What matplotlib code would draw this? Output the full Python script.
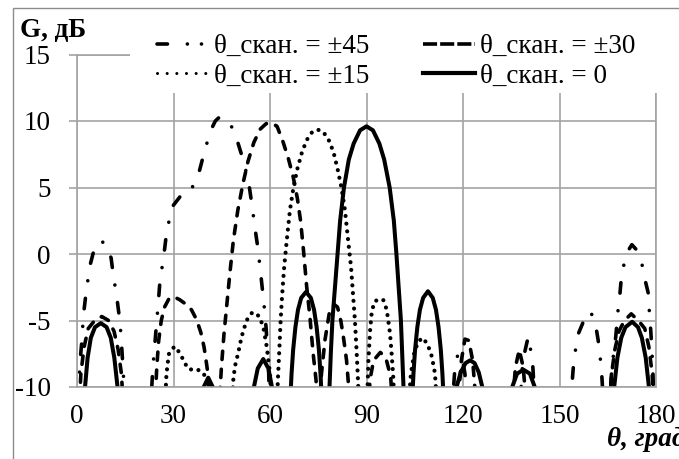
import matplotlib
matplotlib.use("Agg")
import matplotlib.pyplot as plt
from matplotlib.lines import Line2D
from matplotlib.patches import Rectangle

plt.rcParams['font.family'] = ['Liberation Serif', 'DejaVu Serif']

# ---------------- data ----------------
x_ticks = [0, 30, 60, 90, 120, 150, 180]
y_ticks = [-10, -5, 0, 5, 10, 15]

labels = ["θ_скан. = ±45", "θ_скан. = ±30", "θ_скан. = ±15", "θ_скан. = 0"]

# scan = 0 (solid)
theta_0 = [2.0, 2.5, 3.3, 4.3, 5.6, 7.4, 9.2, 10.5, 11.6, 12.6, 13.1,
           38.8, 39.4, 40.8, 42.2, 42.8,
           54.6, 55.0, 56.2, 57.9, 59.5, 60.6, 61.0,
           66.3, 66.7, 67.2, 67.9, 68.7, 69.7, 71.2, 72.7, 73.7, 74.5, 75.2, 75.7, 76.1,
           78.3, 78.5, 78.9, 79.4, 80.2, 81.0, 81.8, 83.0, 84.5, 86.0, 88.0, 90.0,
           92.0, 94.0, 95.5, 97.2, 98.5, 99.3, 100.0, 100.7, 101.1, 101.5, 101.7,
           104.2, 104.6, 105.1, 105.8, 106.6, 107.6, 109.1, 110.6, 111.6, 112.4, 113.1, 113.6, 114.0,
           117.3, 118.0, 119.3, 120.8, 122.2, 123.6, 124.9, 126.0, 126.6,
           134.6, 135.3, 136.8, 138.8, 140.8, 142.3, 143.0,
           166.5, 167.0, 168.0, 169.2, 170.5, 172.6, 174.4, 175.6, 176.8, 177.8, 178.3]
gain_0 = [-11, -10, -7.8, -6.3, -5.5, -5.2, -5.5, -6.3, -7.8, -10, -11,
          -11, -10, -9.3, -10, -11,
          -11, -10, -8.6, -7.9, -8.6, -10, -11,
          -11, -9.0, -7.2, -5.5, -4.2, -3.3, -2.85, -3.3, -4.2, -5.5, -7.2, -9.0, -11,
          -11, -10, -7.5, -5.0, -2.5, 0.0, 2.5, 5.0, 7.1, 8.3, 9.3, 9.6,
          9.3, 8.3, 7.1, 5.0, 2.5, 0.0, -2.5, -5.0, -7.5, -10, -11,
          -11, -9.0, -7.2, -5.5, -4.2, -3.3, -2.8, -3.3, -4.2, -5.5, -7.2, -9.0, -11,
          -11, -10, -8.9, -8.2, -8.0, -8.2, -8.9, -10, -11,
          -11, -10, -9.0, -8.7, -9.0, -10, -11,
          -11, -10, -7.8, -6.3, -5.5, -5.1, -5.5, -6.3, -7.8, -10, -11]

# scan = ±15 (dotted)
theta_15 = [27.5, 27.7, 27.9, 28.2, 28.6, 30.3, 32.0, 33.3, 34.6, 36.0, 37.2, 39.3, 40.5, 41.2,
            48.3, 48.6, 49.1, 50.1, 51.2, 52.7, 54.3, 55.5, 56.9, 58.0, 59.0, 60.0, 60.4,
            62.2, 62.5, 62.9, 63.3, 63.8, 64.4, 65.2, 66.2, 67.3, 68.5, 70.0, 71.5, 73.2, 74.8,
            76.5, 78.2, 79.7, 81.0, 82.2, 83.3, 84.3, 85.2, 85.8, 86.4, 86.9, 87.3, 87.6,
            90.2, 90.6, 91.1, 91.6, 92.4, 93.7, 95.2, 96.3, 97.3, 97.8, 98.3, 98.6,
            103.2, 103.8, 104.8, 106.0, 107.5, 109.0, 110.3, 111.3, 111.8]
gain_15 = [-11, -9.45, -8.85, -8.2, -7.5, -6.95, -7.45, -8.1, -8.65, -8.7, -8.65, -8.95, -9.6, -11,
           -11, -9.45, -8.45, -7.45, -6.2, -5.0, -4.45, -4.4, -4.8, -5.6, -7.0, -9.0, -11,
           -11, -9.2, -7.2, -5.0, -3.0, -1.0, 1.0, 3.3, 5.0, 6.4, 7.7, 8.6, 9.2, 9.35,
           9.2, 8.6, 7.7, 6.4, 5.0, 3.3, 1.0, -1.0, -3.0, -5.0, -7.2, -9.2, -11,
           -11, -8.0, -5.8, -4.45, -3.6, -3.4, -3.45, -4.2, -5.95, -7.45, -9.2, -11,
           -11, -9.0, -7.5, -6.6, -6.3, -6.8, -7.7, -9.0, -11]

# scan = ±30 (dashed)
theta_30 = [0.8, 1.2, 2.2, 3.5, 5.5, 7.7, 9.8, 11.5, 12.8, 13.8, 14.3,
            24.3, 24.8, 25.4, 26.2, 27.2, 28.5, 30.0, 32.0, 34.0, 35.6, 37.2, 38.5, 39.5, 40.3, 40.8, 41.2,
            44.3, 44.9, 45.7, 46.5, 47.5, 48.6, 50.0, 51.6, 53.2, 55.0, 57.0, 58.8, 60.5,
            62.2, 64.1, 65.8, 67.2, 68.5, 69.5, 70.4, 71.4, 72.4, 73.4, 74.3, 74.7,
            75.5, 76.0, 77.1, 78.6, 80.0, 81.0, 82.0, 82.8, 83.8, 84.3, 84.6,
            90.6, 91.2, 92.2, 94.3, 96.0, 97.5, 98.0,
            118.5, 119.5, 120.6, 121.8, 123.0, 124.0,
            135.5, 136.3, 137.5, 138.7, 139.6,
            165.7, 166.2, 167.2, 168.5, 170.2, 172.3, 174.5, 176.5, 177.8, 178.8, 179.2]
gain_30 = [-11, -9.0, -7.0, -5.6, -5.0, -4.7, -5.0, -5.8, -7.2, -9.0, -11,
           -11, -8.5, -6.5, -5.0, -4.0, -3.4, -3.2, -3.45, -3.8, -4.2, -4.95, -5.9, -7.0, -8.3, -9.2, -11,
           -11, -8.5, -6.0, -4.0, -1.5, 1.0, 3.3, 5.3, 7.0, 8.4, 9.4, 9.8, 9.85,
           9.6, 8.4, 7.1, 5.8, 4.2, 2.5, 0.3, -2.45, -4.7, -7.45, -9.45, -11,
           -11, -9.0, -6.45, -4.2, -3.8, -4.0, -5.0, -6.2, -8.0, -9.5, -11,
           -11, -9.3, -8.0, -7.4, -7.8, -9.2, -11,
           -11, -8.0, -6.4, -6.5, -8.0, -11,
           -11, -8.5, -7.2, -8.5, -11,
           -11, -9.0, -7.2, -5.8, -5.0, -4.5, -5.0, -5.6, -7.0, -9.0, -11]

# scan = ±45 (dash-dot)
theta_45 = [0.4, 0.9, 1.45, 2.0, 2.8, 4.0, 5.6, 7.3, 9.2, 10.6, 11.3, 12.4, 13.4, 13.9, 14.4, 14.8,
            23.0, 23.6, 24.6, 25.2, 25.8, 26.9, 27.9, 29.6, 32.0, 35.1, 38.0, 40.0, 42.0, 43.0, 44.3,
            45.5, 47.0, 48.1, 50.1, 51.5, 53.3, 54.5, 55.3, 56.2, 56.9, 57.7, 58.3, 58.8, 59.2, 59.6, 59.8,
            116.8, 117.5, 118.5, 119.6, 120.6, 121.3,
            137.8, 138.6, 140.3, 141.6, 142.3,
            153.5, 154.3, 155.5, 157.4, 159.5, 161.0, 162.0, 163.0, 163.6,
            165.6, 166.3, 167.5, 168.3, 168.8, 169.3, 170.8, 172.5, 174.0, 175.5, 176.6,
            177.6, 177.9, 178.3, 178.6, 179.0, 179.3]
gain_45 = [-11, -8.2, -6.7, -4.6, -2.95, -0.9, 0.6, 1.0, 0.7, -0.3, -1.6, -3.3, -5.2, -7.0, -8.95, -11,
           -11, -8.5, -5.6, -3.9, -2.0, -0.3, 1.7, 3.55, 4.3, 4.6, 6.2, 8.05, 9.5, 10.0, 10.3,
           10.25, 9.9, 9.55, 8.3, 7.2, 5.5, 3.5, 2.0, 0.5, -1.0, -2.8, -4.2, -5.6, -7.2, -9.0, -11,
           -11, -8.5, -7.45, -7.6, -9.0, -11,
           -11, -8.0, -6.2, -8.0, -11,
           -11, -8.5, -6.2, -5.1, -4.3, -5.0, -6.45, -8.5, -11,
           -11, -8.5, -6.2, -3.95, -2.95, -1.6, 0.05, 0.7, 0.3, -0.6, -1.95,
           -2.95, -4.2, -5.5, -6.7, -8.5, -11]

# ---------------- figure ----------------
W, H = 679, 459
fig = plt.figure(figsize=(W / 100, H / 100), dpi=100)
ax = fig.add_axes([77 / W, 1 - 387 / H, 579 / W, 332.5 / H])

grid_c = '#a3a3a3'
lw = 2.6
FS = 19.5

st45 = dict(color='k', lw=lw, ls=(0, (2.9, 4.9, 0.01, 4.9)), dash_capstyle='round')
st30 = dict(color='k', lw=lw, ls=(0, (2.3, 2.7)), dash_capstyle='round')
st15 = dict(color='k', lw=3.0, ls=(0, (0.01, 1.85)), dash_capstyle='round')
st0 = dict(color='k', lw=2.9, ls='-', solid_joinstyle='round')

ax.plot(theta_45, gain_45, **st45)
ax.plot(theta_30, gain_30, **st30)
ax.plot(theta_15, gain_15, **st15)
ax.plot(theta_0, gain_0, **st0)

ax.set_xlim(0, 180)
ax.set_ylim(-10, 15)
ax.set_xticks(x_ticks)
ax.set_yticks(y_ticks)
ax.set_xticklabels([str(v) for v in x_ticks])
ax.set_yticklabels([str(v) for v in y_ticks])
ax.grid(True, color=grid_c, lw=1.2)
ax.set_axisbelow(True)
for s in ax.spines.values():
    s.set_color(grid_c)
    s.set_linewidth(1.2)
ax.tick_params(axis='y', length=5.8, width=1.2, color=grid_c, pad=13, labelsize=FS)
ax.tick_params(axis='x', length=0, pad=12, labelsize=FS)

# outer chart frame
fig.patches.append(Rectangle((13 / W, -0.1), 1.0, (H - 8) / H + 0.1, transform=fig.transFigure,
                             fill=False, edgecolor='#8c8c8c', lw=1.0, zorder=0.5))
# legend background box
fig.patches.append(Rectangle((130 / W, 1 - 93 / H), (670 - 130) / W, 75 / H, transform=fig.transFigure,
                             facecolor='white', edgecolor='none', zorder=1))

h45 = Line2D([], [], color='k', lw=lw, ls=(0, (2.9, 5.5, 0.01, 3.9, 0.01, 8)), dash_capstyle='round')
h30 = Line2D([], [], color='k', lw=lw, ls=(0, (3.9, 0.85)), dash_capstyle='butt')
h15 = Line2D([], [], color='k', lw=2.2, ls=(0, (0.01, 3.15)), dash_capstyle='round')
h0 = Line2D([], [], color='k', lw=3.0)
leg = fig.legend([h45, h15, h30, h0], [labels[0], labels[2], labels[1], labels[3]],
                 ncol=2, loc='upper left', bbox_to_anchor=(157 / W, 1 - 34 / H),
                 frameon=False, fontsize=FS, handlelength=1.9, handletextpad=0.2,
                 columnspacing=2.0, labelspacing=0.18, borderpad=0, borderaxespad=0)
leg.set_zorder(5)

fig.text(20 / W, 1 - 30 / H, "G, дБ", fontsize=FS, fontweight='bold', ha='left', va='center')
fig.text(607 / W, 1 - 439 / H, "θ, град", fontsize=FS, fontweight='bold', fontstyle='italic',
         ha='left', va='center')

fig.savefig("out.png", dpi=100)
